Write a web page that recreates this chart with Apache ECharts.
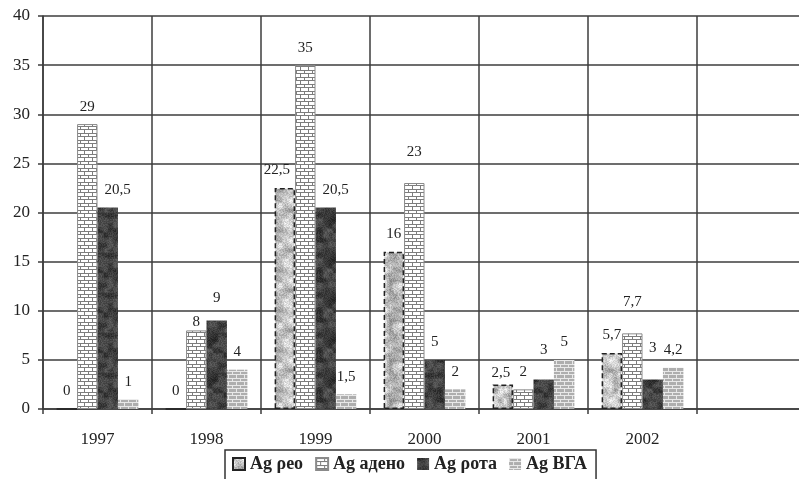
<!DOCTYPE html>
<html>
<head>
<meta charset="utf-8">
<script src="https://cdn.jsdelivr.net/npm/echarts@6/dist/echarts.min.js"></script>
<style>
  html, body { margin: 0; padding: 0; background: #fff; }
  #chart { width: 799px; height: 479px; }
</style>
</head>
<body>
<div id="chart"></div>
<script>
// Years on the category axis (last slot is an empty column)
const years = ['1997', '1998', '1999', '2000', '2001', '2002', ''];

// Antigen detections per year
const reoValues   = [0, 0, 22.5, 16, 2.5, 5.7, null];
const adenoValues = [29, 8, 35, 23, 2, 7.7, null];
const rotaValues  = [20.5, 9, 20.5, 5, 3, 3, null];
const vgaValues   = [1, 4, 1.5, 2, 5, 4.2, null];

const seriesNames = ['Ag ρео', 'Ag адено', 'Ag ρота', 'Ag ВГА'];

// Value-axis ticks
const yTicks = { min: 0, max: 40, step: 5 };

// Small per-label nudges so crowded value labels do not collide
const labelNudge = [
  { 2: [-8, 0], 4: [-2, 6] },
  { 1: [0, 9], 3: [0, -13], 5: [0, -14] },
  { 0: [10, 0], 1: [0, -5], 2: [10, 0], 4: [0, -12], 5: [0, -14] },
  {}
];

const SERIF = '"Liberation Serif", "DejaVu Serif", serif';

// Deterministic hash used for the stone-like textures
function hash(i, j, k) {
  const s = Math.sin(i * 12.9898 + j * 78.233 + k * 37.719) * 43758.5453;
  return s - Math.floor(s);
}

function makeCanvas(w, h, paint) {
  const c = document.createElement('canvas');
  c.width = w; c.height = h;
  paint(c.getContext('2d'), w, h);
  return c;
}

// Mottled fill: coarse value noise (tileable) plus fine grain
function stoneFill(base, spread, seed) {
  const size = 40, cell = 5, n = size / cell;
  return makeCanvas(size, size, (ctx) => {
    const img = ctx.createImageData(size, size);
    for (let y = 0; y < size; y++) {
      for (let x = 0; x < size; x++) {
        const gx = x / cell, gy = y / cell;
        const x0 = Math.floor(gx), y0 = Math.floor(gy);
        const fx = gx - x0, fy = gy - y0;
        const a = hash(x0 % n, y0 % n, seed), b = hash((x0 + 1) % n, y0 % n, seed);
        const c = hash(x0 % n, (y0 + 1) % n, seed), d = hash((x0 + 1) % n, (y0 + 1) % n, seed);
        const sx = fx * fx * (3 - 2 * fx), sy = fy * fy * (3 - 2 * fy);
        const v = a + (b - a) * sx + (c - a) * sy + (a - b - c + d) * sx * sy;
        const g = hash(x, y, seed + 7);
        const val = Math.max(0, Math.min(255, base + (v - 0.5) * spread + (g - 0.5) * spread * 0.6));
        const p = (y * size + x) * 4;
        img.data[p] = img.data[p + 1] = img.data[p + 2] = val;
        img.data[p + 3] = 255;
      }
    }
    ctx.putImageData(img, 0, 0);
  });
}

// Brick-wall fill
function brickFill(bg, line) {
  return makeCanvas(8, 7, (ctx, w, h) => {
    ctx.fillStyle = bg;
    ctx.fillRect(0, 0, w, h);
    ctx.fillStyle = line;
    ctx.fillRect(0, 0, w, 1);
    ctx.fillRect(0, 3, w, 1);
    ctx.fillRect(0, 1, 1, 2);
    ctx.fillRect(4, 4, 1, 3);
  });
}

const fills = [
  { image: stoneFill(192, 80, 1), repeat: 'repeat' },
  { image: brickFill('#ffffff', '#7d7d7d'), repeat: 'repeat' },
  { image: stoneFill(66, 50, 2), repeat: 'repeat' },
  { image: brickFill('#aeaeae', '#e8e8e8'), repeat: 'repeat' }
];

const borders = [
  { borderColor: '#222', borderWidth: 1.5, borderType: [5, 3] },
  { borderColor: '#8a8a8a', borderWidth: 1 },
  { borderColor: '#3a3a3a', borderWidth: 0 },
  { borderColor: '#c8c8c8', borderWidth: 0 }
];

const valueSets = [reoValues, adenoValues, rotaValues, vgaValues];

const fmt = v => String(v).replace('.', ',');

const series = valueSets.map((vals, s) => ({
  name: seriesNames[s],
  type: 'bar',
  barGap: '0%',
  barCategoryGap: '25%',
  itemStyle: Object.assign({ color: fills[s] }, borders[s]),
  label: {
    show: true,
    position: 'top',
    distance: 10,
    fontFamily: SERIF,
    fontSize: 15,
    color: '#222',
    formatter: p => (p.value == null ? '' : fmt(p.value))
  },
  data: vals.map((v, i) => {
    const n = labelNudge[s][i];
    return n ? { value: v, label: { offset: n } } : v;
  })
}));

const gridLine = { color: '#3c3c3c', width: 1.5 };

const chart = echarts.init(document.getElementById('chart'), null, { renderer: 'canvas' });
chart.setOption({
  backgroundColor: '#ffffff',
  animation: false,
  grid: { left: 43, top: 16, width: 763, height: 393, outerBoundsMode: 'none', containLabel: false },
  legend: {
    data: seriesNames,
    icon: 'rect',
    left: 225,
    top: 450,
    padding: [5, 9, 20, 7],
    itemGap: 12,
    itemWidth: 12,
    itemHeight: 12,
    borderColor: '#333',
    borderWidth: 1.5,
    textStyle: { fontFamily: SERIF, fontSize: 18, fontWeight: 'bold', color: '#222' }
  },
  xAxis: {
    type: 'category',
    data: years,
    axisLine: { show: true, lineStyle: gridLine },
    axisTick: { show: true, interval: 0, length: 5, lineStyle: gridLine },
    splitLine: { show: true, interval: 0, lineStyle: gridLine },
    axisLabel: { fontFamily: SERIF, fontSize: 17, color: '#222', margin: 22, interval: 0 }
  },
  yAxis: {
    type: 'value',
    min: yTicks.min,
    max: yTicks.max,
    interval: yTicks.step,
    axisLine: { show: true, lineStyle: gridLine },
    axisTick: { show: true, length: 5, lineStyle: gridLine },
    splitLine: { show: true, lineStyle: gridLine },
    axisLabel: { fontFamily: SERIF, fontSize: 17, color: '#222', margin: 13 }
  },
  series: series
});
</script>
</body>
</html>
